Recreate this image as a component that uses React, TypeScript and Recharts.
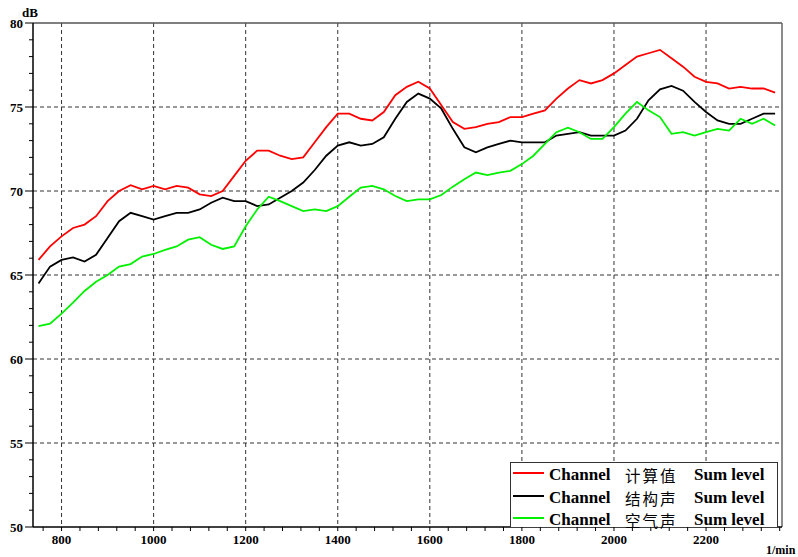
import React from "react";
import { LineChart, Line, XAxis, YAxis, CartesianGrid, ReferenceLine } from "recharts";

const rpm = [
  750, 775, 800, 825, 850, 875, 900, 925, 950, 975, 1000, 1025, 1050, 1075, 1100, 1125, 1150, 1175, 1200, 1225,
  1250, 1275, 1300, 1325, 1350, 1375, 1400, 1425, 1450, 1475, 1500, 1525, 1550, 1575, 1600, 1625, 1650, 1675, 1700,
  1725, 1750, 1775, 1800, 1825, 1850, 1875, 1900, 1925, 1950, 1975, 2000, 2025, 2050, 2075, 2100, 2125, 2150, 2175,
  2200, 2225, 2250, 2275, 2300, 2325, 2350,
];

const calcValues = [
  65.9, 66.7, 67.3, 67.8, 68.0, 68.5, 69.4, 70.0, 70.35, 70.1, 70.3, 70.1, 70.3, 70.2, 69.8, 69.7, 70.0, 70.9, 71.8,
  72.4, 72.4, 72.1, 71.9, 72.0, 72.9, 73.8, 74.6, 74.6, 74.3, 74.2, 74.7, 75.7, 76.2, 76.5, 76.1, 75.1, 74.1, 73.7,
  73.8, 74.0, 74.1, 74.4, 74.4, 74.6, 74.8, 75.5, 76.1, 76.6, 76.4, 76.6, 77.0, 77.5, 78.0, 78.2, 78.4, 77.9, 77.4,
  76.8, 76.5, 76.4, 76.1, 76.2, 76.1, 76.1, 75.85,
];

const structValues = [
  64.5, 65.5, 65.9, 66.05, 65.8, 66.2, 67.2, 68.2, 68.7, 68.5, 68.3, 68.5, 68.7, 68.7, 68.9, 69.3, 69.6, 69.4, 69.4,
  69.1, 69.2, 69.6, 70.0, 70.5, 71.25, 72.1, 72.7, 72.9, 72.7, 72.8, 73.2, 74.3, 75.3, 75.8, 75.5, 74.9, 73.7, 72.6,
  72.3, 72.6, 72.8, 73.0, 72.9, 72.9, 72.9, 73.3, 73.4, 73.5, 73.3, 73.3, 73.3, 73.6, 74.3, 75.4, 76.05, 76.25,
  75.97, 75.3, 74.7, 74.2, 74.0, 74.0, 74.3, 74.6, 74.6,
];

const airValues = [
  61.96, 62.1, 62.7, 63.35, 64.05, 64.6, 65.0, 65.5, 65.65, 66.1, 66.25, 66.5, 66.7, 67.1, 67.25, 66.8, 66.55, 66.7,
  67.9, 68.9, 69.66, 69.4, 69.1, 68.8, 68.9, 68.8, 69.1, 69.66, 70.2, 70.3, 70.1, 69.7, 69.4, 69.5, 69.5, 69.76,
  70.26, 70.7, 71.1, 70.95, 71.1, 71.2, 71.6, 72.1, 72.8, 73.5, 73.77, 73.5, 73.1, 73.1, 73.8, 74.6, 75.3, 74.8,
  74.4, 73.4, 73.5, 73.3, 73.5, 73.7, 73.6, 74.3, 74.0, 74.3, 73.9,
];

const seriesNames = ["计算值", "结构声", "空气声"];
const seriesColors = ["#ff0000", "#000000", "#00f000"];

const xTicks = [
  760, 800, 840, 880, 920, 960, 1000, 1040, 1080, 1120, 1160, 1200, 1240, 1280, 1320, 1360, 1400, 1440, 1480, 1520,
  1560, 1600, 1640, 1680, 1720, 1760, 1800, 1840, 1880, 1920, 1960, 2000, 2040, 2080, 2120, 2160, 2200, 2240, 2280,
  2320, 2360,
];
const xGrid = [800, 1000, 1200, 1400, 1600, 1800, 2000, 2200];
const yTicks = [
  50, 51, 52, 53, 54, 55, 56, 57, 58, 59, 60, 61, 62, 63, 64, 65, 66, 67, 68, 69, 70, 71, 72, 73, 74, 75, 76, 77, 78,
  79, 80,
];
const yGrid = [55, 60, 65, 70, 75];

const data = rpm.map((r, i) => ({
  rpm: r,
  calc: calcValues[i],
  struct: structValues[i],
  air: airValues[i],
}));

const serif = "'Liberation Serif', 'Times New Roman', serif";
const cjk = "'Noto Sans CJK SC', sans-serif";

const YTick = (props: any) => {
  const { x, y, payload } = props;
  const v = payload.value;
  const major = v % 5 === 0;
  const len = major ? 8 : 4;
  return (
    <g>
      <line x1={x - len} x2={x} y1={y} y2={y} stroke="#000" strokeWidth={1} />
      {major && (
        <text x={x - 10} y={y} dy={4.5} textAnchor="end" fontFamily={serif} fontWeight="bold" fontSize={13} fill="#000">
          {v}
        </text>
      )}
    </g>
  );
};

const LegendBox = () => {
  const tops = [3, 25.5, 48];
  const textStyle: React.CSSProperties = {
    position: "absolute",
    top: 0,
    lineHeight: "18px",
    fontFamily: serif,
    fontWeight: "bold",
    fontSize: 17,
    color: "#000",
    whiteSpace: "nowrap",
  };
  return (
    <div
      style={{
        position: "absolute",
        left: 510,
        top: 462,
        width: 268,
        height: 65,
        border: "1px solid #333",
        borderBottom: "none",
        background: "#fff",
        boxSizing: "border-box",
      }}
    >
      {seriesNames.map((name, i) => (
        <div key={name} style={{ position: "absolute", left: 0, top: tops[i], width: 266, height: 18 }}>
          <div style={{ position: "absolute", left: 2, top: 6, width: 31, height: 2, background: seriesColors[i] }} />
          <span style={{ ...textStyle, left: 38 }}>Channel</span>
          <span
            style={{
              ...textStyle,
              left: 114,
              fontFamily: cjk,
              fontWeight: "normal",
              fontSize: 15.5,
              letterSpacing: 2,
            }}
          >
            {name}
          </span>
          <span style={{ ...textStyle, left: 183 }}>Sum level</span>
        </div>
      ))}
    </div>
  );
};

export default function App() {
  return (
    <div style={{ position: "absolute", left: 0, top: 0, width: 798, height: 557, background: "#fff" }}>
      <LineChart width={798} height={557} data={data} margin={{ top: 23, right: 16, left: 0, bottom: 0 }}>
        <CartesianGrid stroke="#333" strokeDasharray="4 3" horizontalValues={yGrid} verticalValues={xGrid} />
        <XAxis
          dataKey="rpm"
          type="number"
          domain={[738, 2365]}
          ticks={xTicks}
          interval={0}
          tickSize={4}
          tickLine={{ stroke: "#000", strokeWidth: 1 }}
          axisLine={{ stroke: "#000", strokeWidth: 1.5 }}
          height={30}
          tickFormatter={(v: number) => (v % 200 === 0 ? String(v) : "")}
          tick={{ fontFamily: serif, fontWeight: "bold", fontSize: 13, fill: "#000" }}
          tickMargin={4}
          allowDataOverflow
        />
        <YAxis
          type="number"
          domain={[50, 80]}
          ticks={yTicks}
          interval={0}
          width={33}
          tickSize={0}
          tickMargin={0}
          tickLine={false}
          axisLine={{ stroke: "#000", strokeWidth: 1.5 }}
          tick={<YTick />}
          allowDataOverflow
        />
        <ReferenceLine y={80} stroke="#555" strokeWidth={1.5} ifOverflow="visible" />
        <ReferenceLine x={2365} stroke="#666" strokeWidth={1.5} ifOverflow="visible" />
        <Line type="linear" dataKey="calc" stroke={seriesColors[0]} strokeWidth={1.8} dot={false} isAnimationActive={false} />
        <Line type="linear" dataKey="struct" stroke={seriesColors[1]} strokeWidth={1.8} dot={false} isAnimationActive={false} />
        <Line type="linear" dataKey="air" stroke={seriesColors[2]} strokeWidth={1.8} dot={false} isAnimationActive={false} />
      </LineChart>
      <LegendBox />
      <div
        style={{
          position: "absolute",
          left: 22,
          top: 6,
          fontFamily: serif,
          fontWeight: "bold",
          fontSize: 13,
          lineHeight: "14px",
          color: "#000",
        }}
      >
        dB
      </div>
      <div
        style={{
          position: "absolute",
          left: 766,
          top: 544,
          fontFamily: serif,
          fontWeight: "bold",
          fontSize: 12,
          lineHeight: "13px",
          color: "#000",
          whiteSpace: "nowrap",
        }}
      >
        1/min
      </div>
    </div>
  );
}
